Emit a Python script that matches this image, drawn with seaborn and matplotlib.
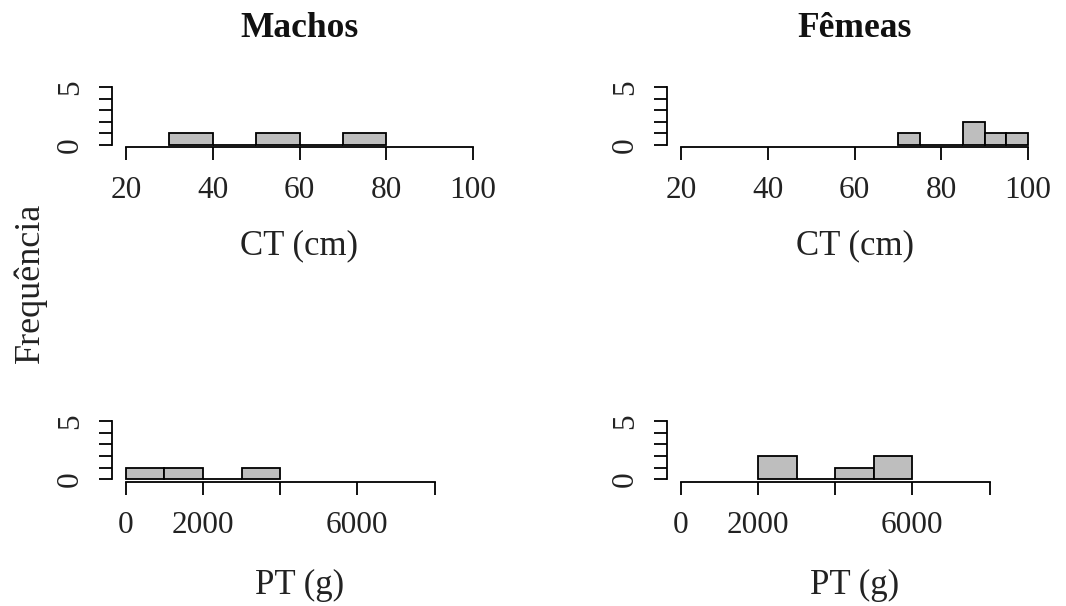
import numpy as np
import pandas as pd
import matplotlib
matplotlib.use("Agg")
import matplotlib.pyplot as plt
import seaborn as sns

# histogram data (bin edges and counts)
ct_machos_edges = [30, 40, 50, 60, 70, 80]
ct_machos_counts = [1, 0, 1, 0, 1]
ct_femeas_edges = [70, 75, 80, 85, 90, 95, 100]
ct_femeas_counts = [1, 0, 0, 2, 1, 1]
pt_machos_edges = [0, 1000, 2000, 3000, 4000]
pt_machos_counts = [1, 1, 0, 1]
pt_femeas_edges = [2000, 3000, 4000, 5000, 6000]
pt_femeas_counts = [2, 0, 1, 2]

ct_ticks = [20, 40, 60, 80, 100]
ct_ticklabels = ["20", "40", "60", "80", "100"]
pt_ticks = [0, 2000, 4000, 6000, 8000]
pt_ticklabels = ["0", "2000", "", "6000", ""]
y_ticks = [0, 1, 2, 3, 4, 5]
y_ticklabels = ["0", "", "", "", "", "5"]

sns.set_style("white")
plt.rcParams["font.family"] = ["Liberation Serif", "DejaVu Serif"]

fig = plt.figure(figsize=(10.66, 6.06), dpi=100)
W, H = 1066, 606


def panel(left_px, bottom_px, edges, counts, ticks, ticklabels, xlim, xlabel,
          title=None, labelpad=17):
    ax = fig.add_axes([left_px / W, 1 - bottom_px / H, 375 / W, 62.6 / H])
    e = np.array(edges, dtype=float)
    df = pd.DataFrame({"mid": (e[:-1] + e[1:]) / 2,
                       "n": np.array(counts, dtype=float)})
    sns.histplot(data=df, x="mid", weights="n", bins=list(edges), ax=ax,
                 color="#BEBEBE", edgecolor="black", linewidth=1.3, alpha=1)
    ax.set_xlim(*xlim)
    ax.set_ylim(-0.2, 5.2)
    ax.set_xticks(ticks)
    ax.set_xticklabels(ticklabels)
    ax.set_yticks(y_ticks)
    ax.set_yticklabels(y_ticklabels)
    for s in ["top", "right"]:
        ax.spines[s].set_visible(False)
    ax.spines["bottom"].set_bounds(ticks[0], ticks[-1])
    ax.spines["left"].set_bounds(0, 5)
    for s in ["bottom", "left"]:
        ax.spines[s].set_linewidth(1.3)
        ax.spines[s].set_color("black")
    ax.tick_params(axis="both", bottom=True, left=True, direction="out",
                   length=9.5, width=1.3, color="black",
                   labelsize=22.5, labelcolor="#222222")
    ax.tick_params(axis="x", pad=11.5)
    ax.tick_params(axis="y", pad=10, labelrotation=90)
    for lab in ax.get_yticklabels():
        lab.set_va("center")
    ax.set_ylabel("")
    ax.set_xlabel(xlabel, fontsize=25, labelpad=labelpad, color="#222222")
    if title:
        ax.set_title(title, fontsize=25.5, fontweight="bold", pad=34, color="#111111")
    ax.set_facecolor("none")
    return ax


panel(112, 147.3, ct_machos_edges, ct_machos_counts, ct_ticks, ct_ticklabels,
      (16.8, 103.2), "CT (cm)", "Machos")
panel(667, 147.3, ct_femeas_edges, ct_femeas_counts, ct_ticks, ct_ticklabels,
      (16.8, 103.2), "CT (cm)", "Fêmeas")
panel(112, 481.5, pt_machos_edges, pt_machos_counts, pt_ticks, pt_ticklabels,
      (-360, 9360), "PT (g)", labelpad=21)
panel(667, 481.5, pt_femeas_edges, pt_femeas_counts, pt_ticks, pt_ticklabels,
      (-360, 9360), "PT (g)", labelpad=21)

fig.text(30 / W, 1 - 283 / H, "Frequência", rotation=90, fontsize=26,
         ha="center", va="center", color="#222222")

fig.savefig("out.png", dpi=100)
